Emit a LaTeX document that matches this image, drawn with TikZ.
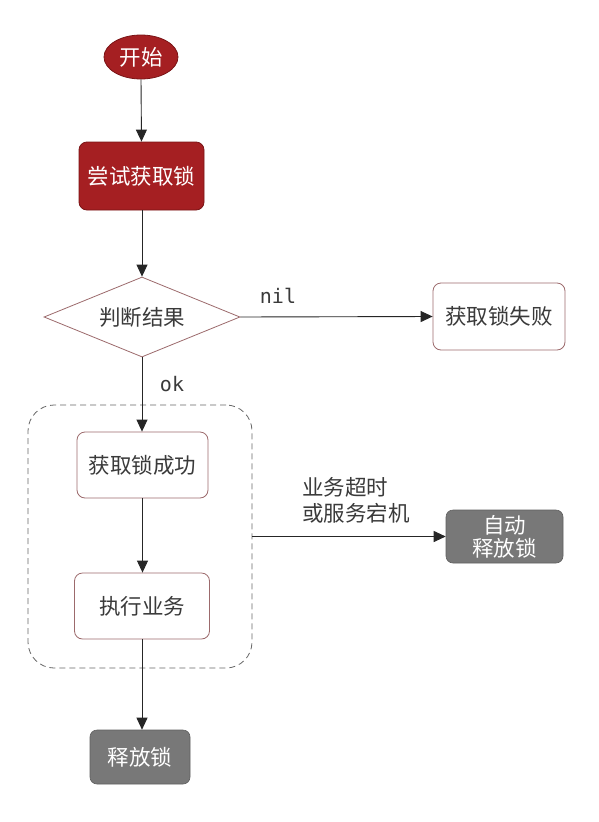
\documentclass[tikz,border=0pt]{standalone}
\usepackage{fontspec}
\setmainfont{Noto Sans CJK SC}
\newfontfamily\cjk{Noto Sans CJK SC}
\newfontfamily\monof{DejaVu Sans Mono}
\usetikzlibrary{shapes.geometric,arrows.meta}
\definecolor{redfill}{HTML}{A51F22}
\definecolor{redline}{HTML}{7A1416}
\definecolor{boxline}{HTML}{9C6A6C}
\definecolor{grayfill}{HTML}{787878}
\definecolor{txt}{HTML}{3A3A3A}
\tikzset{
  cjkfont/.style={font=\cjk\fontsize{21.5}{26}\selectfont},
  redbox/.style={cjkfont, draw=redline, fill=redfill, text=white, rounded corners=8pt, line width=0.8pt},
  whitebox/.style={cjkfont, draw=boxline, fill=white, text=txt, rounded corners=8pt, line width=0.8pt},
  graybox/.style={cjkfont, draw=grayfill!80!black, fill=grayfill, text=white, rounded corners=7pt, line width=0.6pt},
  conn/.style={draw=black!85, line width=0.9pt, -{Triangle[length=12pt,width=11pt]}},
  lbl/.style={font=\monof\fontsize{20}{22}\selectfont, text=txt},
}
\begin{document}
\begin{tikzpicture}[x=1pt,y=-1pt]
\useasboundingbox (0,0) rectangle (598,822);
\fill[white] (0,0) rectangle (598,822);
% nodes
\node[redbox, ellipse, minimum width=74pt, minimum height=44pt, inner sep=0pt] (start) at (141,57) {开始};
\node[redbox, minimum width=125pt, minimum height=68pt] (try) at (141.5,176) {尝试获取锁};
\node[cjkfont, diamond, draw=boxline, line width=0.8pt, text=txt, minimum width=196pt, minimum height=80pt, inner sep=0pt, aspect=2.45] (judge) at (142,317) {判断结果};
\node[whitebox, minimum width=132pt, minimum height=67pt] (fail) at (499,316.5) {获取锁失败};
\node[draw=black!60, dashed, dash pattern=on 6pt off 4pt, line width=0.8pt, rounded corners=26pt, minimum width=224pt, minimum height=263pt] (grp) at (140,536.5) {};
\node[whitebox, minimum width=131pt, minimum height=66pt] (succ) at (142.5,465) {获取锁成功};
\node[whitebox, minimum width=135pt, minimum height=66pt] (exec) at (142,606) {执行业务};
\node[graybox, minimum width=117pt, minimum height=53pt, align=center, inner sep=1pt] (auto) at (504.5,536.5) {自动\\[-3pt]释放锁};
\node[graybox, minimum width=100pt, minimum height=54pt] (rel) at (140,757) {释放锁};
% labels
\node[lbl] (nil) at (278,296) {nil};
\node[lbl] (ok) at (172,384) {ok};
\node[cjkfont, text=txt, align=left, inner sep=0pt] (why) at (356,500) {业务超时\\或服务宕机};
% connectors
\draw[conn] (start.south) -- (try.north);
\draw[conn] (try.south -| judge.north) -- (judge.north);
\draw[conn] (judge.east) -- (fail.west);
\draw[conn] (judge.south) -- (judge.south |- succ.north);
\draw[conn] (succ.south) -- (succ.south |- exec.north);
\draw[conn] (exec.south) -- (exec.south |- rel.north);
\draw[conn] (grp.east) -- (grp.east -| auto.west);
\end{tikzpicture}
\end{document}
